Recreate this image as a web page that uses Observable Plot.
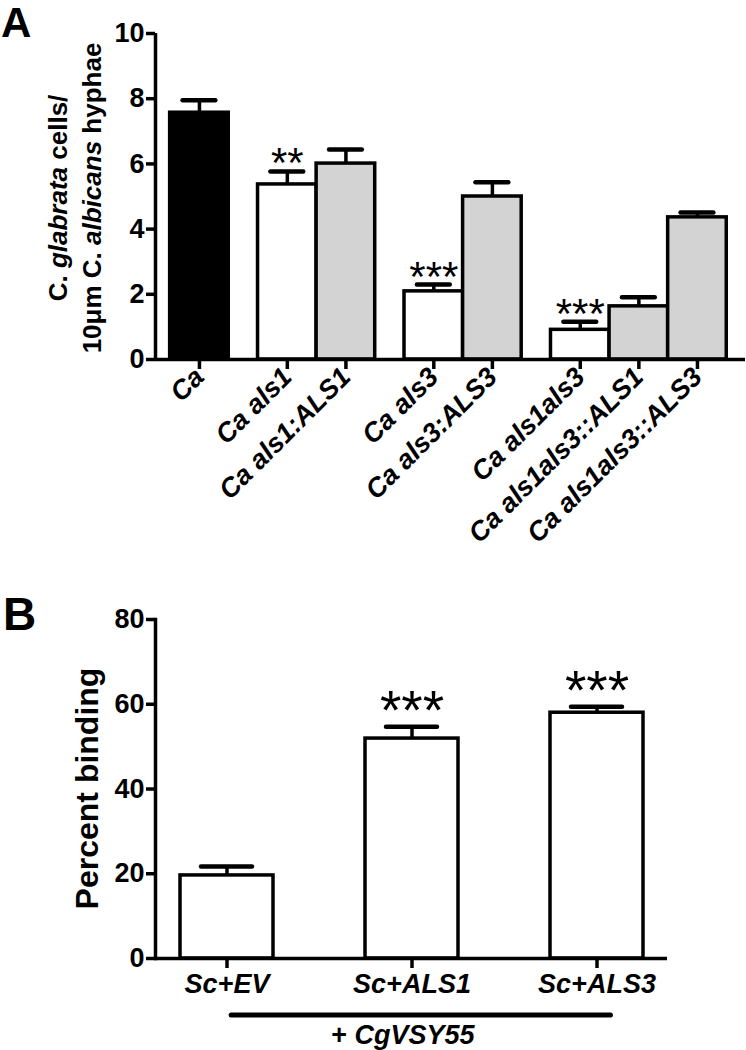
<!DOCTYPE html>
<html><head><meta charset="utf-8">
<script src="https://cdn.jsdelivr.net/npm/d3@7"></script>
<script src="https://cdn.jsdelivr.net/npm/@observablehq/plot@0.6"></script>
<style>
body{margin:0;background:#fff;}
#wrap{width:746px;height:1050px;overflow:hidden;}
#wrap svg{display:block;}
</style></head><body><div id="wrap"></div>
<script>
// ---- Panel A data ----
const strainsA = ["Ca","Ca als1","Ca als1:ALS1","Ca als3","Ca als3:ALS3","Ca als1als3","Ca als1als3::ALS1","Ca als1als3::ALS3"];
const groupA = [0,1,1,2,2,3,3,3];
const kindA = ["wild type","mutant","complemented","mutant","complemented","mutant","complemented","complemented"];
const meanA = [7.57,5.37,6.01,2.09,5.00,0.91,1.63,4.36];
const semA  = [0.38,0.40,0.43,0.21,0.44,0.25,0.28,0.15];
const starsA = ["","**","","***","","***","",""];
const yTicksA = [0,2,4,6,8,10];
const yTitleA1 = [["C. ",false],["glabrata",true],[" cells/",false]];
const yTitleA2 = [["10μm C. ",false],["albicans",true],[" hyphae",false]];
const kinds = ["wild type","mutant","complemented"];
const kindFills = ["#000000","#ffffff","#d3d3d3"];

// ---- Panel B data ----
const strainsB = ["Sc+EV","Sc+ALS1","Sc+ALS3"];
const meanB = [19.6,51.9,58.0];
const semB  = [2.1,2.8,1.4];
const starsB = ["","***","***"];
const yTicksB = [0,20,40,60,80];
const yTitleB = "Percent binding";
const groupLabelB = [["+ ",false],["CgVSY55",true]];

const FONT = "'Liberation Sans', Arial, sans-serif";
const SW = 3.5;

const dataA = strainsA.map((s,i)=>({strain:s, pos:i+0.5*groupA[i], kind:kindA[i], mean:meanA[i], sem:semA[i], stars:starsA[i]}));
const labelByPos = new Map(dataA.map(d=>[d.pos,d.strain]));
const xDomainA = [-0.75, 9.32];

const plotA = Plot.plot({
  width: 746, height: 500,
  marginTop: 33, marginBottom: 141, marginLeft: 155, marginRight: 1,
  style: {fontFamily: FONT, fontWeight: "bold", color: "black", background: "white", overflow: "visible"},
  x: {domain: xDomainA},
  y: {domain: [0,10]},
  color: {domain: kinds, range: kindFills},
  marks: [
    Plot.rectY(dataA, {x1: d=>d.pos-0.5, x2: d=>d.pos+0.5, y1: 0, y2: "mean", fill: "kind", stroke: "black", strokeWidth: SW}),
    Plot.ruleX(dataA, {x: "pos", y1: "mean", y2: d=>d.mean+d.sem, stroke: "black", strokeWidth: SW}),
    Plot.ruleY(dataA, {y: d=>d.mean+d.sem, x1: d=>d.pos-0.28, x2: d=>d.pos+0.28, stroke: "black", strokeWidth: 4.5, strokeLinecap: "round"}),
    Plot.text(dataA.filter(d=>d.stars), {x: "pos", y: d=>d.mean+d.sem, text: "stars", fontSize: 42, fontWeight: "normal", lineAnchor: "bottom", dy: 6, fill: "black"}),
    Plot.ruleY([0], {strokeWidth: SW}),
    Plot.ruleX([xDomainA[0]], {strokeWidth: SW}),
    Plot.axisY({ticks: yTicksA, tickSize: 9, tickPadding: 2, fontSize: 27, strokeWidth: SW, label: null}),
    Plot.axisX({ticks: dataA.map(d=>d.pos), tickFormat: d=>labelByPos.get(d), tickRotate: -45, tickSize: 10, tickPadding: 3, fontSize: 27, fontStyle: "italic", strokeWidth: SW, label: null})
  ]
});

const dataB = strainsB.map((s,i)=>({strain:s, mean:meanB[i], sem:semB[i], stars:starsB[i]}));
const plotB = Plot.plot({
  width: 746, height: 550,
  marginTop: 119, marginBottom: 92, marginLeft: 155, marginRight: 79,
  style: {fontFamily: FONT, fontWeight: "bold", color: "black", background: "white", overflow: "visible"},
  x: {type: "band", domain: strainsB, paddingInner: 0.5, paddingOuter: 0.13},
  y: {domain: [0,80]},
  marks: [
    Plot.barY(dataB, {x: "strain", y: "mean", fill: "white", stroke: "black", strokeWidth: SW}),
    Plot.ruleX(dataB, {x: "strain", y1: "mean", y2: d=>d.mean+d.sem, stroke: "black", strokeWidth: SW}),
    Plot.tickY(dataB, {x: "strain", y: d=>d.mean+d.sem, insetLeft: 21, insetRight: 21, stroke: "black", strokeWidth: 4.5, strokeLinecap: "round"}),
    Plot.text(dataB.filter(d=>d.stars), {x: "strain", y: d=>d.mean+d.sem, text: "stars", fontSize: 55, fontWeight: "normal", lineAnchor: "bottom", dy: 2, fill: "black"}),
    Plot.ruleY([0], {strokeWidth: SW}),
    Plot.frame({anchor: "left", strokeWidth: SW}),
    Plot.axisY({ticks: yTicksB, tickSize: 9, tickPadding: 2, fontSize: 27, strokeWidth: SW, label: null}),
    Plot.axisX({tickSize: 10, tickPadding: 5, fontSize: 27, fontStyle: "italic", strokeWidth: SW, label: null})
  ]
});

const wrap = document.getElementById("wrap");
wrap.appendChild(plotA);
wrap.appendChild(plotB);

// make sure axis label sizes are applied
d3.select(plotA).selectAll('g[aria-label="y-axis tick label"]').style("font-size","27px");
d3.select(plotA).selectAll('g[aria-label="x-axis tick label"]').style("font-size","27px").style("font-style","italic");
d3.select(plotB).selectAll('g[aria-label="y-axis tick label"]').style("font-size","27px");
d3.select(plotB).selectAll('g[aria-label="x-axis tick label"]').style("font-size","27px").style("font-style","italic");

function addMixed(sel, parts){
  parts.forEach(([t,it])=>{ const ts = sel.append("tspan").text(t); if(it) ts.attr("font-style","italic"); });
}

// Panel A annotations
const sA = d3.select(plotA);
sA.append("text").attr("x",1).attr("y",37).attr("text-anchor","start").style("font-size","42px").attr("font-weight","bold").attr("font-family",FONT).text("A");
const ya = plotA.scale("y");
const yMidA = (ya.apply(0)+ya.apply(10))/2;
const t1 = sA.append("text").attr("transform",`translate(58,${yMidA+2}) rotate(-90)`).attr("text-anchor","middle").attr("dy","0.35em").style("font-size","26px").attr("font-weight","bold").attr("font-family",FONT);
addMixed(t1, yTitleA1);
const t2 = sA.append("text").attr("transform",`translate(92,${yMidA+2}) rotate(-90)`).attr("text-anchor","middle").attr("dy","0.35em").style("font-size","26px").attr("font-weight","bold").attr("font-family",FONT);
addMixed(t2, yTitleA2);

// Panel B annotations
const sB = d3.select(plotB);
sB.append("text").attr("x",3).attr("y",130).attr("text-anchor","start").style("font-size","46px").attr("font-weight","bold").attr("font-family",FONT).text("B");
const yb = plotB.scale("y");
const yMidB = (yb.apply(0)+yb.apply(80))/2;
sB.append("text").attr("transform",`translate(87,${yMidB}) rotate(-90)`).attr("text-anchor","middle").attr("dy","0.35em").style("font-size","32px").attr("font-weight","bold").attr("font-family",FONT).text(yTitleB);
const xb = plotB.scale("x");
const gx1 = xb.apply(strainsB[0]) + xb.bandwidth*0.55;
const gx2 = xb.apply(strainsB[strainsB.length-1]) + xb.bandwidth*0.65;
const gy = yb.apply(0) + 57;
sB.append("line").attr("x1",gx1).attr("x2",gx2).attr("y1",gy).attr("y2",gy).attr("stroke","black").attr("stroke-width",5).attr("stroke-linecap","round");
const gt = sB.append("text").attr("x",(gx1+gx2)/2 - 18).attr("y",gy+29).attr("text-anchor","middle").style("font-size","27px").attr("font-weight","bold").attr("font-family",FONT);
addMixed(gt, groupLabelB);
</script>
</body></html>
